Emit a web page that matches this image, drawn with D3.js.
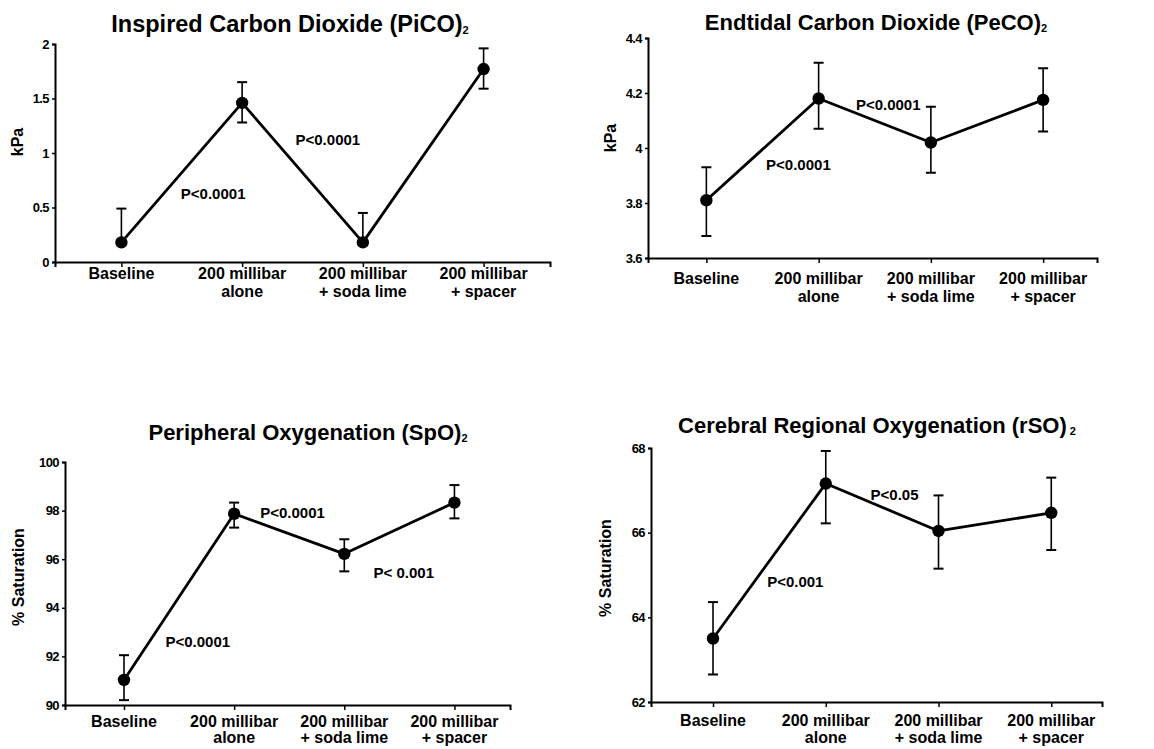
<!DOCTYPE html>
<html>
<head>
<meta charset="utf-8">
<script src="https://cdn.jsdelivr.net/npm/d3@7"></script>
<style>
  html, body { margin: 0; padding: 0; background: #fff; }
  svg { display: block; }
  text { font-family: "Liberation Sans", Arial, Helvetica, sans-serif; fill: #000; }
</style>
</head>
<body>
<svg id="chart" width="1154" height="749"></svg>
<script>
// ---------- DATA ----------
const categories = [["Baseline"], ["200 millibar", "alone"], ["200 millibar", "+ soda lime"], ["200 millibar", "+ spacer"]];

const picoMean  = [0.18, 1.46, 0.18, 1.77];
const picoUpper = [0.49, 1.65, 0.45, 1.96];
const picoLower = [null, 1.28, null, 1.59];
const picoTicks = [0, 0.5, 1, 1.5, 2];
const picoTickLabels = ["0", "0.5", "1", "1.5", "2"];
const picoP = [{ text: "P<0.0001", i: 0.76, v: 0.63 }, { text: "P<0.0001", i: 1.71, v: 1.12 }];

const petcoMean  = [3.81, 4.18, 4.02, 4.175];
const petcoUpper = [3.93, 4.31, 4.15, 4.29];
const petcoLower = [3.68, 4.07, 3.91, 4.06];
const petcoTicks = [3.6, 3.8, 4.0, 4.2, 4.4];
const petcoTickLabels = ["3.6", "3.8", "4", "4.2", "4.4"];
const petcoP = [{ text: "P<0.0001", i: 0.82, v: 3.94 }, { text: "P<0.0001", i: 1.62, v: 4.156 }];

const spoMean  = [91.03, 97.87, 96.22, 98.33];
const spoUpper = [92.05, 98.33, 96.82, 99.05];
const spoLower = [90.2, 97.3, 95.5, 97.68];
const spoTicks = [90, 92, 94, 96, 98, 100];
const spoTickLabels = ["90", "92", "94", "96", "98", "100"];
const spoP = [{ text: "P<0.0001", i: 0.67, v: 92.6 }, { text: "P<0.0001", i: 1.53, v: 97.9 }, { text: "P< 0.001", i: 2.54, v: 95.43 }];

const rsoMean  = [63.5, 67.16, 66.04, 66.47];
const rsoUpper = [64.36, 67.93, 66.88, 67.3];
const rsoLower = [62.65, 66.22, 65.15, 65.59];
const rsoTicks = [62, 64, 66, 68];
const rsoTickLabels = ["62", "64", "66", "68"];
const rsoP = [{ text: "P<0.001", i: 0.73, v: 64.83 }, { text: "P<0.05", i: 1.61, v: 66.9 }];

const titles = ["Inspired Carbon Dioxide (PiCO)", "Endtidal Carbon Dioxide (PeCO)", "Peripheral Oxygenation (SpO)", "Cerebral Regional Oxygenation (rSO)"];
const titleSubs = ["2", "2", "2", " 2"];
const yLabels = ["kPa", "kPa", "% Saturation", "% Saturation"];

// ---------- LAYOUT ----------
const panels = [
  { mean: picoMean, upper: picoUpper, lower: picoLower, ticks: picoTicks, tickLabels: picoTickLabels, p: picoP,
    box: { l: 55, r: 550, t: 44, b: 262 }, pad: 0.55, align: 0.5,
    title: { x: 290, y: 32, size: 23.5 }, ylab: { x: 17, y: 142 }, xlabY: 17, lineGap: 18 },
  { mean: petcoMean, upper: petcoUpper, lower: petcoLower, ticks: petcoTicks, tickLabels: petcoTickLabels, p: petcoP,
    box: { l: 648, r: 1097, t: 38, b: 258 }, pad: 0.5, align: 0.52,
    title: { x: 876, y: 30, size: 22 }, ylab: { x: 610, y: 138 }, xlabY: 26, lineGap: 18 },
  { mean: spoMean, upper: spoUpper, lower: spoLower, ticks: spoTicks, tickLabels: spoTickLabels, p: spoP,
    box: { l: 65, r: 510, t: 462, b: 705 }, pad: 0.52, align: 0.515,
    title: { x: 308, y: 440, size: 22 }, ylab: { x: 18, y: 577 }, xlabY: 22, lineGap: 16 },
  { mean: rsoMean, upper: rsoUpper, lower: rsoLower, ticks: rsoTicks, tickLabels: rsoTickLabels, p: rsoP,
    box: { l: 651, r: 1102, t: 448, b: 702 }, pad: 0.5, align: 0.55,
    title: { x: 877, y: 433, size: 22 }, ylab: { x: 605, y: 568 }, xlabY: 24, lineGap: 17 }
];

const svg = d3.select("#chart");

panels.forEach((P, k) => {
  const g = svg.append("g");
  const idx = d3.range(categories.length);
  const x = d3.scalePoint().domain(idx).range([P.box.l, P.box.r]).padding(P.pad).align(P.align);
  const step = x.step();
  const xi = v => x(0) + v * step; // fractional category position
  const y = d3.scaleLinear().domain(d3.extent(P.ticks)).range([P.box.b, P.box.t]);

  // Y axis
  const yAxis = d3.axisLeft(y).tickValues(P.ticks).tickFormat((d, i) => P.tickLabels[i]).tickSizeOuter(0).tickSize(3).tickPadding(3);
  const ya = g.append("g").attr("transform", `translate(${P.box.l},0)`).call(yAxis);
  ya.select(".domain").attr("stroke", "#000").attr("stroke-width", 2);
  ya.selectAll(".tick line").attr("stroke", "#000").attr("stroke-width", 1.5);
  ya.selectAll(".tick text").attr("font-size", 13).attr("font-weight", "bold").attr("letter-spacing", -0.6)
    .attr("font-family", '"Liberation Sans", Arial, sans-serif').attr("fill", "#000");

  // X axis
  const xAxis = d3.axisBottom(x).tickFormat("").tickSizeOuter(0).tickSize(5);
  const xa = g.append("g").attr("transform", `translate(0,${P.box.b})`).call(xAxis);
  xa.select(".domain").attr("stroke", "#000").attr("stroke-width", 2);
  xa.selectAll(".tick line").attr("stroke", "#000").attr("stroke-width", 1.5);

  // X category labels
  const lab = g.append("g").selectAll("text").data(categories).join("text")
    .attr("x", (d, i) => x(i)).attr("y", P.box.b + P.xlabY)
    .attr("text-anchor", "middle").attr("font-size", 16).attr("font-weight", "bold");
  lab.selectAll("tspan").data(d => d).join("tspan")
    .attr("x", function () { return d3.select(this.parentNode).attr("x"); })
    .attr("dy", (d, j) => j === 0 ? 0 : P.lineGap).text(d => d);

  // Y label
  g.append("text").attr("transform", `translate(${P.ylab.x},${P.ylab.y}) rotate(-90)`)
    .attr("text-anchor", "middle").attr("dy", "0.35em").attr("font-size", 16).attr("font-weight", "bold")
    .text(yLabels[k]);

  // Title
  const t = g.append("text").attr("x", P.title.x).attr("y", P.title.y).attr("text-anchor", "middle")
    .attr("font-size", P.title.size).attr("font-weight", "bold");
  t.append("tspan").text(titles[k]);
  t.append("tspan").attr("font-size", 11).attr("dy", 2).text(titleSubs[k]);

  // Error bars
  const cap = 5;
  const eb = g.append("g").attr("stroke", "#000").attr("stroke-width", 1.6).attr("fill", "none");
  idx.forEach(i => {
    const top = P.upper[i], bot = P.lower[i] == null ? P.mean[i] : P.lower[i];
    eb.append("line").attr("x1", x(i)).attr("x2", x(i)).attr("y1", y(top)).attr("y2", y(bot));
    eb.append("line").attr("x1", x(i) - cap).attr("x2", x(i) + cap).attr("y1", y(top)).attr("y2", y(top)).attr("stroke-width", 2);
    if (P.lower[i] != null)
      eb.append("line").attr("x1", x(i) - cap).attr("x2", x(i) + cap).attr("y1", y(bot)).attr("y2", y(bot)).attr("stroke-width", 2);
  });

  // Line
  const line = d3.line().x((d, i) => x(i)).y(d => y(d));
  g.append("path").datum(P.mean).attr("d", line).attr("fill", "none").attr("stroke", "#000")
    .attr("stroke-width", 2.8).attr("stroke-linejoin", "round");

  // Points
  g.append("g").selectAll("circle").data(P.mean).join("circle")
    .attr("cx", (d, i) => x(i)).attr("cy", d => y(d)).attr("r", 6.2).attr("fill", "#000");

  // P-value annotations
  g.append("g").selectAll("text").data(P.p).join("text")
    .attr("x", d => xi(d.i)).attr("y", d => y(d.v)).attr("dy", "0.35em")
    .attr("text-anchor", "middle").attr("font-size", 15).attr("font-weight", "bold").text(d => d.text);
});
</script>
</body>
</html>
